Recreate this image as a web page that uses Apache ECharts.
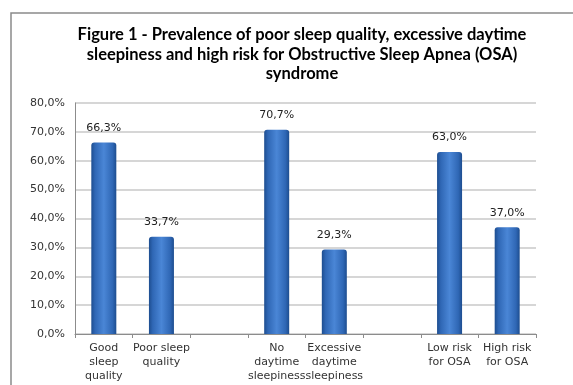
<!DOCTYPE html>
<html><head><meta charset="utf-8">
<script src="https://cdn.jsdelivr.net/npm/echarts@6/dist/echarts.min.js"></script>
<style>html,body{margin:0;padding:0;background:#fff}#c{width:573px;height:385px}</style>
</head><body><div id="c"></div>
<script>
const categories = ['Good\nsleep\nquality', 'Poor sleep\nquality', '', 'No\ndaytime\nsleepiness', 'Excessive\ndaytime\nsleepiness', '', 'Low risk\nfor OSA', 'High risk\nfor OSA'];
const values = [66.3, 33.7, null, 70.7, 29.3, null, 63.0, 37.0];
const yTicks = [0, 10, 20, 30, 40, 50, 60, 70, 80];
const titleText = 'Figure 1 - Prevalence of poor sleep quality, excessive daytime\nsleepiness and high risk for Obstructive Sleep Apnea (OSA)\nsyndrome';

const fmt = v => v.toFixed(1).replace('.', ',') + '%';
const chart = echarts.init(document.getElementById('c'), null, {renderer: 'canvas'});
chart.setOption({
  animation: false,
  backgroundColor: '#fff',
  graphic: [{
    type: 'rect', shape: {x: 11, y: 13, width: 600, height: 420},
    style: {fill: 'none', stroke: '#8a8a8a', lineWidth: 1.5}, silent: true
  }],
  title: {
    text: titleText, left: 297, top: 20, textAlign: 'center',
    textStyle: {fontFamily: 'Lato', fontWeight: 'bold', fontSize: 16.5, lineHeight: 19.5, color: '#000'}
  },
  grid: {left: 75, right: 37, top: 103, bottom: 51, containLabel: false},
  xAxis: {
    type: 'category', data: categories,
    axisLine: {lineStyle: {color: '#8c8c8c'}},
    axisTick: {show: true, interval: 0, length: 4, lineStyle: {color: '#8c8c8c'}},
    axisLabel: {interval: 0, color: '#333', fontFamily: 'DejaVu Sans', fontSize: 11, lineHeight: 14, margin: 7}
  },
  yAxis: {
    type: 'value', min: yTicks[0], max: yTicks[yTicks.length - 1], interval: 10,
    axisLine: {show: true, lineStyle: {color: '#8c8c8c'}},
    axisTick: {show: false},
    splitLine: {lineStyle: {color: '#c8c8c8', width: 1.5}},
    axisLabel: {formatter: v => fmt(v), color: '#333', fontFamily: 'DejaVu Sans', fontSize: 11, margin: 10}
  },
  series: [{
    type: 'bar', data: values, barWidth: 25,
    itemStyle: {
      borderRadius: [3, 3, 0, 0],
      color: new echarts.graphic.LinearGradient(0, 0, 1, 0, [
        {offset: 0, color: '#1d4d8f'},
        {offset: 0.15, color: '#2f67b5'},
        {offset: 0.5, color: '#4a86d6'},
        {offset: 0.85, color: '#2f67b5'},
        {offset: 1, color: '#1d4d8f'}
      ])
    },
    label: {
      show: true, position: 'top', distance: 9,
      formatter: p => fmt(p.value),
      color: '#222', fontFamily: 'DejaVu Sans', fontSize: 11
    }
  }]
});
</script></body></html>
